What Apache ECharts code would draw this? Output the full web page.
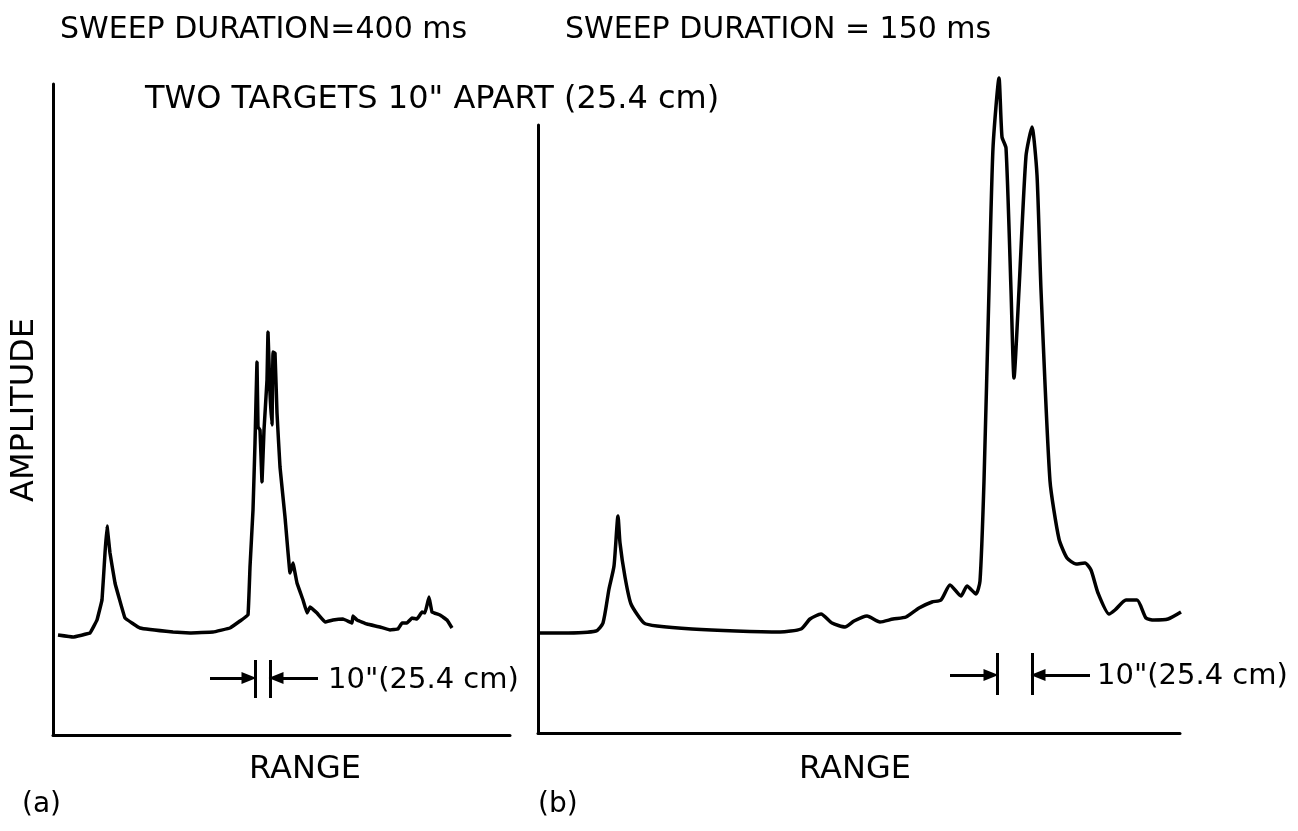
<!DOCTYPE html>
<html>
<head>
<meta charset="utf-8">
<script src="https://cdn.jsdelivr.net/npm/echarts@6/dist/echarts.min.js"></script>
<style>html,body{margin:0;padding:0;background:#fff;}#c{width:1298px;height:831px;}</style>
</head>
<body>
<div id="c"></div>
<script>
// Panel (a): sweep 400 ms — [range, amplitude] readings (arbitrary units)
const rangeA = [5,20,37,44,49,52,54,57,62,72,87,120,137,160,177,187,195,197,200,202,204,205,207,209,211,214,215,217,219,220,222,224,227,232,237,240,244,250,254,257,264,272,280,290,299,300,304,314,327,337,345,349,354,359,364,369,372,376,379,387,394,399];
const ampA   = [100,98,102,115,135,182,209,182,152,117,107,103,102,103,107,114,120,168,225,292,373,308,305,253,305,355,403,342,310,383,382,322,268,218,162,172,152,135,122,128,122,113,115,116,112,119,115,111,108,105,106,112,112,117,116,123,122,138,123,120,115,107];

// Panel (b): sweep 150 ms
const rangeB = [1,24,58,65,71,76,80,82,87,93,106,119,154,198,242,263,272,283,294,307,316,329,342,355,368,381,394,403,412,423,429,438,442,446,451,455,461,464,468,473,476,481,488,494,499,503,512,521,529,538,547,553,560,571,577,588,599,608,616,630,643];
const ampB   = [100,100,102,110,144,167,217,190,156,129,110,107,104,102,101,104,114,119,110,106,112,117,111,114,116,125,131,133,148,137,147,139,152,252,443,585,655,596,585,443,355,443,577,606,558,443,252,194,175,169,170,163,140,119,123,133,133,115,113,114,121];

// Separation marker positions (range) and labels
const markA = [202, 217];
const markB = [459, 494];
const titles = ['SWEEP DURATION=400 ms', 'SWEEP DURATION = 150 ms', 'TWO TARGETS 10" APART (25.4 cm)'];
const sepLabel = '10"(25.4 cm)';

const pairs = (xs, ys) => xs.map((x, i) => [x, ys[i]]);
const F = s => s + 'px "DejaVu Sans"';
const axisStyle = {show: true, lineStyle: {color: '#000', width: 3}};

function markerLines(m, y0, y1, ya, aL, aR) {
  return [
    [{coord: [m[0], y0], symbol: 'none'}, {coord: [m[0], y1], symbol: 'none'}],
    [{coord: [m[1], y0], symbol: 'none'}, {coord: [m[1], y1], symbol: 'none'}],
    [{coord: [aL, ya], symbol: 'none'}, {coord: [m[0] - 6, ya], symbol: 'triangle', symbolSize: [12, 15]}],
    [{coord: [aR, ya], symbol: 'none'}, {coord: [m[1] + 6, ya], symbol: 'triangle', symbolSize: [12, 15]}]
  ];
}

const chart = echarts.init(document.getElementById('c'));
chart.setOption({
  animation: false,
  backgroundColor: '#fff',
  grid: [
    {left: 53, top: 84, width: 457, bottom: 96},
    {left: 538, top: 125, width: 642, bottom: 98}
  ],
  xAxis: [
    {gridIndex: 0, type: 'value', min: 0, max: 457, axisLine: axisStyle, axisTick: {show: false}, axisLabel: {show: false}, splitLine: {show: false}},
    {gridIndex: 1, type: 'value', min: 0, max: 642, axisLine: axisStyle, axisTick: {show: false}, axisLabel: {show: false}, splitLine: {show: false}}
  ],
  yAxis: [
    {gridIndex: 0, type: 'value', min: 0, max: 651, axisLine: axisStyle, axisTick: {show: false}, axisLabel: {show: false}, splitLine: {show: false}},
    {gridIndex: 1, type: 'value', min: 0, max: 608, axisLine: axisStyle, axisTick: {show: false}, axisLabel: {show: false}, splitLine: {show: false}}
  ],
  series: [
    {
      type: 'line', xAxisIndex: 0, yAxisIndex: 0, data: pairs(rangeA, ampA),
      showSymbol: false, clip: false, smooth: 0.05,
      lineStyle: {color: '#000', width: 3.5}, silent: true,
      markLine: {silent: true, animation: false, label: {show: false},
        lineStyle: {color: '#000', width: 3, type: 'solid'},
        data: markerLines(markA, 37, 75, 57, 157, 265)}
    },
    {
      type: 'line', xAxisIndex: 1, yAxisIndex: 1, data: pairs(rangeB, ampB),
      showSymbol: false, clip: false, smooth: 0.2,
      lineStyle: {color: '#000', width: 3.5}, silent: true,
      markLine: {silent: true, animation: false, label: {show: false},
        lineStyle: {color: '#000', width: 3, type: 'solid'},
        data: markerLines(markB, 38, 80, 58, 412, 552)}
    }
  ],
  graphic: [
    {type: 'text', x: 60, y: 30, style: {text: titles[0], font: F(30), fill: '#000', textVerticalAlign: 'middle'}},
    {type: 'text', x: 565, y: 30, style: {text: titles[1], font: F(30), fill: '#000', textVerticalAlign: 'middle'}},
    {type: 'text', x: 145, y: 100, style: {text: titles[2], font: F(32), fill: '#000', textVerticalAlign: 'middle'}},
    {type: 'text', x: 25, y: 410, rotation: Math.PI / 2, style: {text: 'AMPLITUDE', font: F(32), fill: '#000', textAlign: 'center', textVerticalAlign: 'middle'}},
    {type: 'text', x: 305, y: 770, style: {text: 'RANGE', font: F(32), fill: '#000', textAlign: 'center', textVerticalAlign: 'middle'}},
    {type: 'text', x: 855, y: 770, style: {text: 'RANGE', font: F(32), fill: '#000', textAlign: 'center', textVerticalAlign: 'middle'}},
    {type: 'text', x: 22, y: 805, style: {text: '(a)', font: F(28), fill: '#000', textVerticalAlign: 'middle'}},
    {type: 'text', x: 538, y: 805, style: {text: '(b)', font: F(28), fill: '#000', textVerticalAlign: 'middle'}},
    {type: 'text', x: 328, y: 680, style: {text: sepLabel, font: F(29), fill: '#000', textVerticalAlign: 'middle'}},
    {type: 'text', x: 1097, y: 676, style: {text: sepLabel, font: F(29), fill: '#000', textVerticalAlign: 'middle'}}
  ]
});
</script>
</body>
</html>
